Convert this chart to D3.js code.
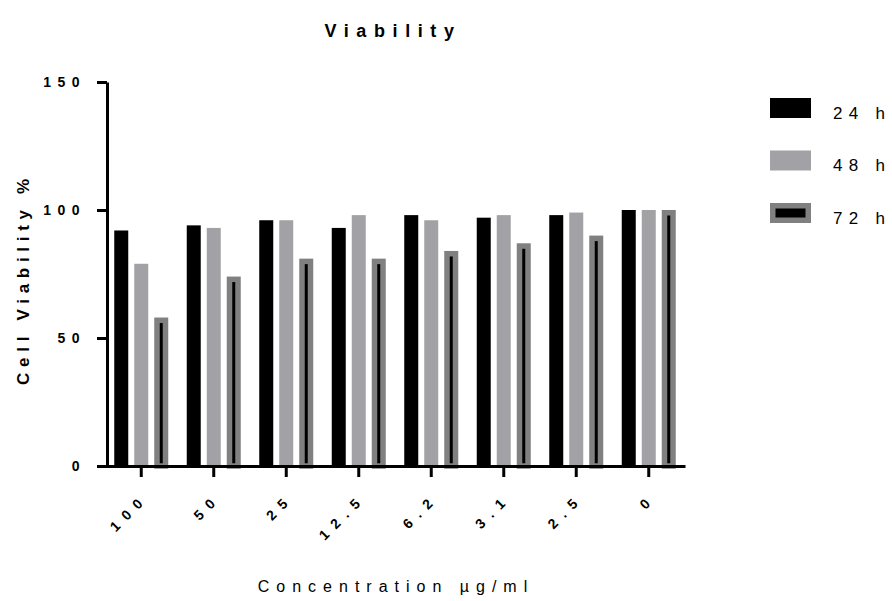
<!DOCTYPE html>
<html>
<head>
<meta charset="utf-8">
<script src="https://cdn.jsdelivr.net/npm/d3@7"></script>
<style>
  body { margin: 0; background: #fff; }
  text { font-family: "Liberation Sans", Arial, sans-serif; fill: #000; }
</style>
</head>
<body>
<script>
const categories = ["100", "50", "25", "12.5", "6.2", "3.1", "2.5", "0"];
const seriesNames = ["24 h", "48 h", "72 h"];
const v24h = [92, 94, 96, 93, 98, 97, 98, 100];
const v48h = [79, 93, 96, 98, 96, 98, 99, 100];
const v72h = [58, 74, 81, 81, 84, 87, 90, 100];
const yTicks = [0, 50, 100, 150];

const seriesValues = [v24h, v48h, v72h];
const rows = categories.map((c, i) => ({
    cat: c,
    vals: seriesNames.map((s, k) => ({ s: s, v: seriesValues[k][i] }))
}));

const W = 892, H = 601;
const margin = { top: 82, right: 207, bottom: 135, left: 105 };

const svg = d3.select("body")
    .append("svg")
    .attr("width", W)
    .attr("height", H)
    .attr("xmlns", "http://www.w3.org/2000/svg");

const x = d3.scaleBand()
    .domain(categories)
    .range([margin.left, W - margin.right]);

const xInner = d3.scaleBand()
    .domain(seriesNames)
    .range([-27, 27])
    .paddingInner(0.3);

const y = d3.scaleLinear()
    .domain([0, 150])
    .range([H - margin.bottom, margin.top]);

// bars
const groups = svg.append("g").selectAll("g")
    .data(rows)
    .join("g")
    .attr("transform", d => "translate(" + (x(d.cat) + x.bandwidth() / 2) + ",0)");

const bw = xInner.bandwidth();
const b = 5.5; // border of the 72 h pattern

groups.selectAll("rect")
    .data(d => d.vals)
    .join("rect")
    .attr("x", d => d.s === "72 h" ? xInner(d.s) + b / 2 : xInner(d.s))
    .attr("y", d => d.s === "72 h" ? y(d.v) + b / 2 : y(d.v))
    .attr("width", d => d.s === "72 h" ? bw - b : bw)
    .attr("height", d => d.s === "72 h" ? y(0) - y(d.v) - b / 2 : y(0) - y(d.v))
    .attr("fill", d => d.s === "48 h" ? "#a2a2a6" : "#000")
    .attr("stroke", d => d.s === "72 h" ? "#808080" : "none")
    .attr("stroke-width", b);

// axes
const yAxis = svg.append("g")
    .attr("transform", "translate(" + (margin.left + 2) + ",0)")
    .call(d3.axisLeft(y).tickValues(yTicks).tickSize(10).tickSizeOuter(0).tickPadding(11));
yAxis.select(".domain").attr("stroke-width", 3).attr("stroke", "#000");
yAxis.selectAll(".tick line").attr("stroke-width", 3).attr("stroke", "#000");
yAxis.selectAll(".tick text")
    .attr("font-family", null)
    .style("font-size", "14px")
    .style("font-weight", "bold")
    .style("letter-spacing", "6.5px");

const xAxis = svg.append("g")
    .attr("transform", "translate(0," + y(0) + ")")
    .call(d3.axisBottom(x).tickSize(11).tickSizeOuter(0));
xAxis.select(".domain").attr("stroke-width", 3).attr("stroke", "#000");
xAxis.selectAll(".tick line").attr("stroke-width", 3).attr("stroke", "#000");
xAxis.selectAll(".tick text")
    .attr("font-family", null)
    .style("font-size", "14px")
    .style("font-weight", "bold")
    .style("letter-spacing", "8px")
    .style("text-anchor", "end")
    .attr("y", 0)
    .attr("dy", 0)
    .attr("transform", "translate(8,33) rotate(-45)");

// titles
svg.append("text")
    .attr("x", 393)
    .attr("y", 37)
    .attr("text-anchor", "middle")
    .style("font-size", "18px")
    .style("font-weight", "bold")
    .style("letter-spacing", "7.6px")
    .text("Viability");

svg.append("text")
    .attr("transform", "translate(29,279) rotate(-90)")
    .attr("text-anchor", "middle")
    .style("font-size", "17px")
    .style("font-weight", "bold")
    .style("letter-spacing", "5.7px")
    .text("Cell Viability %");

svg.append("text")
    .attr("x", 396)
    .attr("y", 592)
    .attr("text-anchor", "middle")
    .style("font-size", "16px")
    .style("letter-spacing", "7px")
    .text("Concentration \u00b5g/ml");

// legend
const legend = svg.append("g").selectAll("g")
    .data(seriesNames)
    .join("g")
    .attr("transform", (d, i) => "translate(770," + (98 + i * 52.5) + ")");

legend.append("rect")
    .attr("x", d => d === "72 h" ? b / 2 : 0)
    .attr("y", d => d === "72 h" ? b / 2 : 0)
    .attr("width", d => d === "72 h" ? 41 - b : 41)
    .attr("height", d => d === "72 h" ? 20 - b : 20)
    .attr("fill", d => d === "48 h" ? "#a2a2a6" : "#000")
    .attr("stroke", d => d === "72 h" ? "#808080" : "none")
    .attr("stroke-width", b);

legend.append("text")
    .attr("x", 63)
    .attr("y", 20.5)
    .style("font-size", "17px")
    .style("letter-spacing", "6.3px")
    .text(d => d);
</script>
</body>
</html>
